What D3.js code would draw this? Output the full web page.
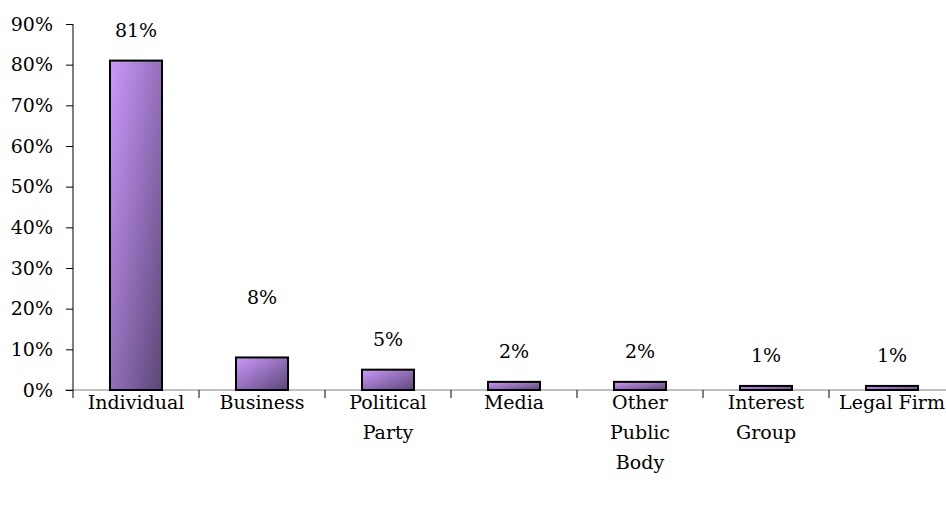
<!DOCTYPE html>
<html>
<head>
<meta charset="utf-8">
<script src="https://cdn.jsdelivr.net/npm/d3@7"></script>
<style>
    body { margin: 0; background: #fff; overflow: hidden; }
    svg { display: block; font-family: "DejaVu Serif", serif; }
</style>
</head>
<body>
<svg id="chart" width="946" height="508"></svg>
<script>
const categories = ['Individual', 'Business', 'Political\nParty', 'Media', 'Other\nPublic\nBody', 'Interest\nGroup', 'Legal Firm'];
const shares = [81, 8, 5, 2, 2, 1, 1];
const yTicks = [0, 10, 20, 30, 40, 50, 60, 70, 80, 90];

const svg = d3.select('#chart');
// the plot area runs a little past the right edge of the window, as in the original
const margin = { top: 24, left: 73 };
const width = 882;
const height = 366;
const fontSize = 19;

const defs = svg.append('defs');
const grad = defs.append('linearGradient')
    .attr('id', 'barFill')
    .attr('x1', 0).attr('y1', 0)
    .attr('x2', 1).attr('y2', 1);
grad.append('stop').attr('offset', '0%').attr('stop-color', '#cc99ff');
grad.append('stop').attr('offset', '100%').attr('stop-color', '#5b4675');

const g = svg.append('g').attr('transform', `translate(${margin.left},${margin.top})`);

const x = d3.scaleBand()
    .domain(categories)
    .range([0, width])
    .paddingInner(0.587)
    .paddingOuter(0.2935);

const y = d3.scaleLinear()
    .domain([0, 90])
    .range([height, 0]);

// x axis: ticks sit between categories
const step = x.step();
const xAxis = g.append('g').attr('transform', `translate(0,${height})`);
xAxis.append('line')
    .attr('x1', -8).attr('x2', width)
    .attr('stroke', '#808080');
xAxis.selectAll('line.sep')
    .data(d3.range(categories.length + 1))
    .join('line')
    .attr('class', 'sep')
    .attr('x1', i => i * step).attr('x2', i => i * step)
    .attr('y1', 0).attr('y2', 8)
    .attr('stroke', '#000');

const catLabels = xAxis.selectAll('text.cat')
    .data(categories)
    .join('text')
    .attr('class', 'cat')
    .attr('text-anchor', 'middle')
    .attr('font-size', fontSize)
    .attr('fill', '#000')
    .attr('transform', d => `translate(${x(d) + x.bandwidth() / 2},${19})`);
catLabels.selectAll('tspan')
    .data(d => d.split('\n'))
    .join('tspan')
    .attr('x', 0)
    .attr('y', (d, i) => i * 30)
    .text(d => d);

// y axis
const yAxis = g.append('g')
    .call(d3.axisLeft(y).tickValues(yTicks).tickSize(7).tickFormat(d => d + '%'));
yAxis.select('.domain').attr('stroke', '#000').attr('d', `M0,${height}V0`);
yAxis.selectAll('.tick line').attr('stroke', '#000');
yAxis.selectAll('.tick text')
    .attr('x', -20)
    .attr('font-size', fontSize)
    .attr('font-family', '"DejaVu Serif", serif')
    .attr('fill', '#000');

// bars
g.selectAll('rect.bar')
    .data(shares)
    .join('rect')
    .attr('class', 'bar')
    .attr('x', (d, i) => x(categories[i]))
    .attr('y', d => y(d))
    .attr('width', x.bandwidth())
    .attr('height', d => height - y(d))
    .attr('fill', 'url(#barFill)')
    .attr('stroke', '#000')
    .attr('stroke-width', 2);

// value labels; the Business one sits higher in the original
const extraLift = { Business: 29 };
g.selectAll('text.val')
    .data(shares)
    .join('text')
    .attr('class', 'val')
    .attr('text-anchor', 'middle')
    .attr('font-size', fontSize)
    .attr('fill', '#000')
    .attr('x', (d, i) => x(categories[i]) + x.bandwidth() / 2)
    .attr('y', (d, i) => y(d) - 24 - (extraLift[categories[i]] || 0))
    .text(d => d + '%');
</script>
</body>
</html>
